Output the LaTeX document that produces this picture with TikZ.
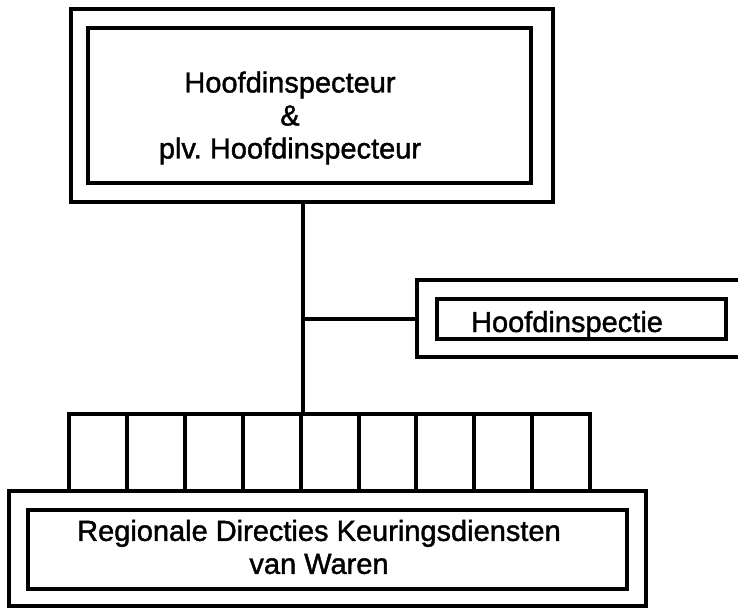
\documentclass[tikz,border=0pt]{standalone}
\usepackage{fontspec}
\setmainfont{Liberation Sans}
\newfontfamily\scanfont[FakeBold=1.4]{Liberation Sans}
\frenchspacing
\tikzset{
  box/.style={draw=black, line width=4pt, rectangle, inner sep=0pt},
  frame/.style={rectangle, inner sep=0pt},
  cell/.style={draw=black, line width=4pt, rectangle, inner sep=0pt, minimum width=57.9pt, minimum height=77pt},
  conn/.style={draw=black, line width=4pt},
  lbl/.style={inner sep=0pt, align=center, font=\scanfont\fontsize{29}{33}\selectfont}
}
\begin{document}
\begin{tikzpicture}[x=1pt, y=-1pt]
\clip (0,0) rectangle (738,609);
\fill[white] (0,0) rectangle (738,609);
% top box
\node[box, minimum width=482pt, minimum height=193pt] (topout) at (312,105.5) {};
\node[box, minimum width=443pt, minimum height=155pt] (topin) at (309.5,105.5) {};
\node[lbl] (toptext) at (290,118) {Hoofdinspecteur\\\&\\plv. Hoofdinspecteur};
% Hoofdinspectie box (outer open to the right)
\node[frame, minimum width=343pt, minimum height=77pt] (hiout) at (588.5,318.5) {};
\draw[conn, line cap=rect] (hiout.north east) -- (hiout.north west) -- (hiout.south west) -- (hiout.south east);
\node[box, minimum width=289pt, minimum height=40pt] (hiin) at (581.5,319) {};
\node[lbl, anchor=base] (hitext) at (567,332) {Hoofdinspectie};
% comb of regional cells
\foreach \i in {1,...,9} {
  \node[cell] (c\i) at ({69+57.9*(\i-0.5)},452.5) {};
}
% bottom box
\node[box, minimum width=637pt, minimum height=115pt] (botout) at (327.5,548.5) {};
\node[box, minimum width=599pt, minimum height=79pt] (botin) at (327.5,549.5) {};
\node[lbl] (bottext) at (319,547) {Regionale Directies Keuringsdiensten\\van Waren};
% connectors
\draw[conn] (c4.north east |- topout.south) -- (c4.north east);
\draw[conn] (c4.north east |- hiout.west) -- (hiout.west);
\end{tikzpicture}
\end{document}
